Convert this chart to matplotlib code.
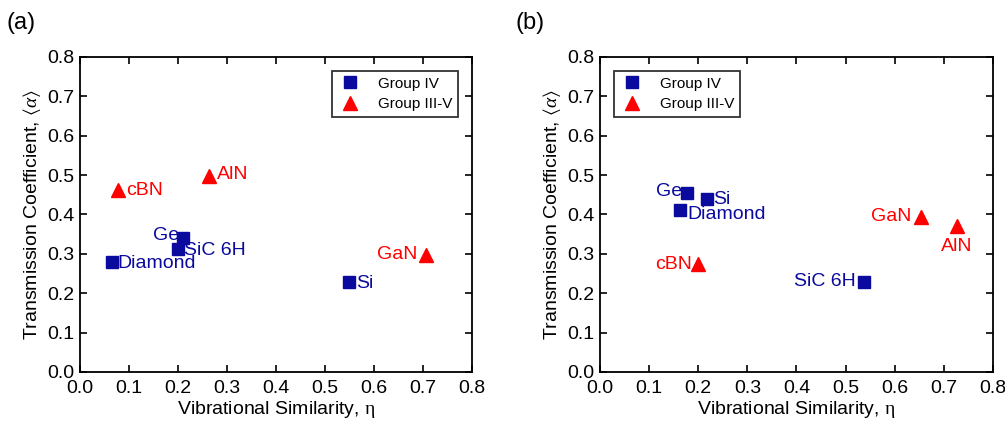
import matplotlib

matplotlib.use("Agg")
import matplotlib.pyplot as plt

plt.rcParams["font.family"] = ["Liberation Sans", "DejaVu Sans"]
plt.rcParams["mathtext.fontset"] = "custom"
plt.rcParams["mathtext.rm"] = "Liberation Serif"
plt.rcParams["mathtext.it"] = "Liberation Serif:italic"
plt.rcParams["mathtext.fallback"] = "stix"

BLUE = "#0a0a9e"
RED = "#ff0000"

# panel (a)
a_iv_names = ["Ge", "SiC 6H", "Diamond", "Si"]
a_iv_x = [0.210, 0.200, 0.065, 0.549]
a_iv_y = [0.340, 0.313, 0.278, 0.229]
a_iiiv_names = ["cBN", "AlN", "GaN"]
a_iiiv_x = [0.077, 0.263, 0.706]
a_iiiv_y = [0.462, 0.497, 0.298]

# panel (b)
b_iv_names = ["Ge", "Si", "Diamond", "SiC 6H"]
b_iv_x = [0.178, 0.217, 0.163, 0.538]
b_iv_y = [0.455, 0.439, 0.411, 0.229]
b_iiiv_names = ["cBN", "GaN", "AlN"]
b_iiiv_x = [0.199, 0.653, 0.727]
b_iiiv_y = [0.273, 0.394, 0.371]

ticks = [0.0, 0.1, 0.2, 0.3, 0.4, 0.5, 0.6, 0.7, 0.8]

# label offsets in points (dx, dy, ha, va)
a_iv_offsets = [(-3, 2, "right", "center"), (4, -1, "left", "center"),
                (4, -1, "left", "center"), (5, -1, "left", "center")]
a_iiiv_offsets = [(6, 0, "left", "center"), (6, 1, "left", "center"),
                  (-6, 0, "right", "center")]
b_iv_offsets = [(-4, 1, "right", "center"), (5, 0, "left", "center"),
                (5, -3, "left", "center"), (-6, 0, "right", "center")]
b_iiiv_offsets = [(-4, 0, "right", "center"), (-7, 0, "right", "center"),
                  (0, -9, "center", "top")]


def draw_panel(ax, iv, iiiv, iv_off, iiiv_off, legend_loc, tag, tag_x):
    names, xs, ys = iv
    ax.plot(xs, ys, "s", color=BLUE, ms=8, label="Group IV", zorder=3)
    for n, x, y, (dx, dy, ha, va) in zip(names, xs, ys, iv_off):
        ax.annotate(n, (x, y), xytext=(dx, dy), textcoords="offset points",
                    ha=ha, va=va, color=BLUE, fontsize=14)
    names, xs, ys = iiiv
    ax.plot(xs, ys, "^", color=RED, ms=10, label="Group III-V", zorder=3)
    for n, x, y, (dx, dy, ha, va) in zip(names, xs, ys, iiiv_off):
        ax.annotate(n, (x, y), xytext=(dx, dy), textcoords="offset points",
                    ha=ha, va=va, color=RED, fontsize=14)

    ax.set_xlim(0, 0.8)
    ax.set_ylim(0, 0.8)
    ax.set_xticks(ticks)
    ax.set_yticks(ticks)
    ax.set_xticklabels([f"{t:.1f}" for t in ticks])
    ax.set_yticklabels([f"{t:.1f}" for t in ticks])
    ax.tick_params(direction="in", top=True, right=True, length=5,
                   width=1.2, labelsize=14)
    ax.tick_params(axis="x", pad=6)
    ax.tick_params(axis="y", pad=4)
    for s in ax.spines.values():
        s.set_linewidth(1.3)
    ax.set_xlabel(r"Vibrational Similarity, $\mathrm{\eta}$", fontsize=14,
                  labelpad=1)
    ax.set_ylabel(r"Transmission Coefficient, $\langle\alpha\rangle$",
                  fontsize=14, labelpad=3)
    leg = ax.legend(loc=legend_loc, fontsize=11, frameon=True, fancybox=False,
                    edgecolor="black", borderpad=0.4, handletextpad=1.0,
                    labelspacing=0.4, borderaxespad=0.9, handlelength=1.6)
    leg.get_frame().set_linewidth(1.3)
    fig.text(tag_x, 0.945, tag, fontsize=17, ha="left", va="center")


fig = plt.figure(figsize=(10.05, 4.25), dpi=100)
ax_a = fig.add_axes([0.0796, 0.125, 0.390, 0.741])
ax_b = fig.add_axes([0.597, 0.125, 0.391, 0.741])

draw_panel(ax_a, (a_iv_names, a_iv_x, a_iv_y),
           (a_iiiv_names, a_iiiv_x, a_iiiv_y),
           a_iv_offsets, a_iiiv_offsets, "upper right", "(a)", 0.006)
draw_panel(ax_b, (b_iv_names, b_iv_x, b_iv_y),
           (b_iiiv_names, b_iiiv_x, b_iiiv_y),
           b_iv_offsets, b_iiiv_offsets, "upper left", "(b)", 0.513)

fig.savefig("out.png", dpi=100)
